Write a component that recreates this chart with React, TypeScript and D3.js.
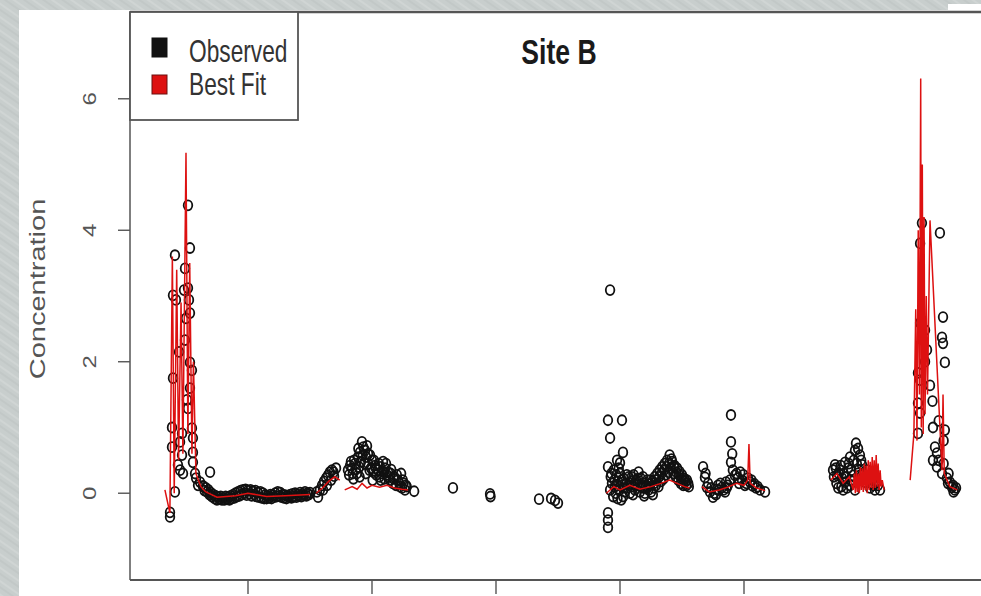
import React from "react";
import * as d3 from "d3";

// [day, concentration]
type Pt = [number, number];

const yTicks = [0, 2, 4, 6];
const xTicks = [100, 200, 300, 400, 500, 600];
const legendItems = [
  { label: "Observed", color: "#111111" },
  { label: "Best Fit", color: "#dd1111" },
];

// observed samples, grouped by sampling campaign
const obsSpike1: Pt[] = [
  [51.6, 4.38], [41.1, 3.62], [53.2, 3.73], [49.2, 3.42], [51.6, 3.12], [52.4, 2.94],
  [53.2, 2.74], [39.5, 3.01], [41.9, 2.94], [48.4, 3.09], [50, 2.66], [49.2, 2.33],
  [44.4, 2.15], [53.2, 1.99], [54.8, 1.87], [39.5, 1.75], [53.2, 1.6], [50.8, 1.42],
  [51.6, 1.29], [38.7, 1.0], [46.8, 0.91], [54.8, 0.99], [55.6, 0.84], [38.7, 0.7],
  [45.2, 0.78], [46.8, 0.58], [55.6, 0.62], [55.6, 0.47], [45.2, 0.35], [43.5, 0.43],
  [47.6, 0.3], [57.3, 0.3], [69.4, 0.32], [58.1, 0.23], [61.3, 0.17], [59.7, 0.12],
  [63.7, 0.11], [41.1, 0.02], [37.1, -0.29], [37.1, -0.36],
];

const obsFlat1: Pt[] = [
  [64, 0.1], [65, 0.04], [66, 0.08], [67, 0.02], [68, 0.05], [69, -0.02], [70, 0.01],
  [71, -0.05], [72, -0.02], [73, -0.08], [74, -0.04], [75, -0.1], [76, -0.06], [77, -0.09],
  [78, -0.05], [79, -0.1], [80, -0.07], [81, -0.1], [82, -0.05], [83, -0.09], [84, -0.06],
  [85, -0.1], [86, -0.04], [87, -0.08], [88, -0.02], [89, -0.07], [90, 0.0], [91, -0.05],
  [92, 0.02], [93, -0.04], [94, 0.04], [95, -0.02], [96, 0.05], [97, 0.0], [98, 0.06],
  [99, -0.03], [100, 0.04], [101, -0.01], [102, 0.05], [103, -0.04], [104, 0.03],
  [105, -0.02], [106, 0.04], [107, -0.05], [108, 0.01], [109, -0.06], [110, 0.02],
  [111, -0.07], [112, 0.0], [113, -0.08], [114, -0.03], [115, -0.08], [116, -0.04],
  [117, -0.07], [118, -0.02], [119, -0.08], [120, -0.03], [121, -0.06], [122, 0.0],
  [123, -0.05], [124, 0.02], [125, -0.04], [126, 0.01], [127, -0.06], [128, -0.02],
  [129, -0.07], [130, -0.03], [131, -0.08], [132, -0.04], [133, -0.06], [134, -0.02],
  [135, -0.07], [136, -0.01], [137, -0.05], [138, 0.0], [139, -0.06], [140, -0.02],
  [141, -0.04], [142, 0.01], [143, -0.05], [144, -0.01], [145, -0.03], [146, 0.02],
  [147, -0.04], [148, 0.0], [149, -0.02], [150, 0.01],
];

const obsRise: Pt[] = [
  [155.6, 0.02], [156.5, -0.06], [158, 0.05], [159.7, 0.12], [160.5, 0.05], [161.3, 0.18],
  [163, 0.23], [163.7, 0.12], [164.5, 0.27], [166, 0.32], [167, 0.2], [167.7, 0.35],
  [169, 0.32], [169.4, 0.26], [171, 0.38],
];

const obsHump: Pt[] = [
  [180.6, 0.35], [181.5, 0.28], [182.3, 0.42], [183, 0.48], [183.9, 0.38], [184.5, 0.3],
  [185, 0.22], [185.5, 0.5], [186.3, 0.45], [187, 0.36], [187.8, 0.3], [188.7, 0.55],
  [189, 0.68], [189.5, 0.4], [190, 0.25], [190.3, 0.62], [191.1, 0.48], [191.9, 0.78],
  [192.5, 0.58], [193, 0.7], [194, 0.45], [194.4, 0.65], [195, 0.3], [195.2, 0.55],
  [196, 0.72], [196.8, 0.6], [197, 0.45], [198, 0.35], [198.4, 0.58], [199.2, 0.38],
  [200, 0.5], [200.5, 0.2], [201, 0.32], [201.5, 0.5], [202.4, 0.42], [203, 0.38],
  [203.5, 0.28], [204.8, 0.35], [205.5, 0.45], [206, 0.25], [206.5, 0.4], [207, 0.2],
  [208, 0.3], [208.9, 0.48], [209.5, 0.32], [210, 0.22], [210.5, 0.38], [211.3, 0.45],
  [212, 0.28], [212.9, 0.32], [213.5, 0.25], [214.5, 0.2], [215, 0.3], [215.5, 0.36],
  [216.9, 0.15], [217.5, 0.22], [218, 0.25], [219.4, 0.12], [220, 0.28], [221, 0.2],
  [222, 0.15], [222.6, 0.1], [223.5, 0.3], [224.2, 0.08], [224.8, 0.2], [225.5, 0.15],
  [226.6, 0.05], [227.3, 0.12], [228, 0.1], [234, 0.03],
];

const obsSparse: Pt[] = [
  [265.3, 0.08], [295.2, -0.01], [295.6, -0.05], [334.7, -0.09], [344.4, -0.08],
  [347.6, -0.11], [350, -0.15],
];

const obsMid: Pt[] = [
  [392, 3.09], [390.3, 1.11], [401.6, 1.11], [392, 0.84], [402.4, 0.62], [390.3, 0.4],
  [397.6, 0.5], [400, 0.46], [390.3, -0.3], [390.3, -0.41], [390.3, -0.52],
  [392, 0.05], [392.5, 0.25], [393, 0.3], [393.5, 0.15], [394.5, -0.05], [395, 0.35],
  [395.5, 0.2], [396, 0.1], [396.5, 0.0], [397, 0.28], [397.5, 0.12], [398, -0.08],
  [398.4, 0.18], [399, 0.38], [399.5, 0.05], [400, 0.3], [401, -0.1], [401.5, 0.2],
  [402, 0.12], [402.5, -0.05], [403, 0.22], [403.5, 0.08], [404, 0.02], [405, 0.15],
  [405.5, 0.28], [406, 0.08], [407, 0.25], [407.5, 0.12], [408, 0.0], [409, 0.18],
  [409.5, 0.25], [410, 0.1], [410.5, -0.02], [411, 0.28], [412, 0.05], [412.5, 0.15],
  [413, 0.2], [414, 0.12], [414.5, 0.22], [415, 0.32], [416, 0.02], [416.5, 0.12],
  [417, 0.22], [418, 0.08], [418.5, 0.25], [419, 0.15], [419.5, -0.04], [420, 0.0],
  [420.5, 0.08], [421, 0.12], [422, 0.2], [422.5, 0.1], [423, 0.05], [424, 0.14],
  [424.5, 0.2], [425, 0.02], [426, 0.18], [426.5, -0.02], [427, 0.08], [427.5, 0.15],
  [428, 0.25], [429, 0.12], [429.5, 0.2], [430, 0.3], [431, 0.1], [431.5, 0.25],
  [432, 0.35], [433, 0.18], [433.5, 0.3], [434, 0.4], [435, 0.22], [435.5, 0.35],
  [436, 0.45], [437, 0.28], [437.5, 0.4], [438, 0.5], [439, 0.32], [439.5, 0.45],
  [440, 0.58], [441, 0.38], [441.5, 0.52], [442, 0.48], [443, 0.3], [443.5, 0.4],
  [444, 0.42], [445, 0.25], [445.5, 0.32], [446, 0.38], [447, 0.2], [447.5, 0.28],
  [448, 0.33], [449, 0.15], [449.5, 0.22], [450, 0.28], [451, 0.12], [451.5, 0.18],
  [452, 0.22], [453, 0.18], [453.5, 0.12], [454, 0.2], [455, 0.15], [455.5, 0.1],
];

const obsMid2: Pt[] = [
  [467, 0.4], [468.5, 0.24], [469, 0.3], [470, 0.09], [471, 0.15], [472.6, 0.02],
  [473.5, 0.08], [475, -0.06], [476, 0.0], [477.4, -0.02], [478, 0.06], [479, 0.12],
  [480, 0.05], [481, 0.15], [482.3, 0.09], [483.5, 0.05], [484.7, 0.02], [485.5, 0.17],
  [486, 0.08], [487, 0.12], [488.7, 0.2], [489.5, 1.19], [489.5, 0.78], [489.5, 0.47],
  [490.5, 0.6], [491, 0.35], [492.7, 0.27], [494, 0.3], [495, 0.23], [496, 0.15],
  [497, 0.32], [498.4, 0.2], [499.5, 0.28], [500.8, 0.12], [502, 0.15], [503.2, 0.23],
  [504.8, 0.17], [506, 0.2], [507, 0.11], [508.5, 0.14], [509.7, 0.08], [511, 0.1],
  [512.9, 0.05], [517, 0.02],
];

const obsLate: Pt[] = [
  [571.8, 0.35], [572.5, 0.25], [573.4, 0.43], [574, 0.38], [574.5, 0.15], [575, 0.27],
  [576, 0.08], [576.5, 0.3], [577.4, 0.35], [578, 0.42], [578.5, 0.1], [579, 0.23],
  [580, 0.05], [580.5, 0.3], [581.5, 0.47], [581.5, 0.17], [582.5, 0.25], [583, 0.08],
  [583.9, 0.38], [584.5, 0.45], [585.5, 0.55], [585.5, 0.12], [586, 0.2], [586.5, 0.35],
  [587, 0.18], [588, 0.27], [588.5, 0.5], [589.5, 0.65], [589.5, 0.05], [590.3, 0.76],
  [591, 0.45], [592, 0.68], [592.5, 0.35], [593.5, 0.58], [593.5, 0.27], [594.5, 0.5],
  [595.2, 0.43], [596, 0.3], [597.6, 0.17], [598.5, 0.25], [599.2, 0.35], [600.5, 0.2],
  [601.6, 0.08], [602.5, 0.15], [603.2, 0.23], [604.5, 0.12], [605.6, 0.05], [606.5, 0.18],
  [608, 0.12], [609.7, 0.05],
];

const obsSpike2: Pt[] = [
  [643.5, 4.11], [642, 3.8], [658, 3.96], [660.5, 2.68], [642, 2.59], [646, 2.48],
  [659.7, 2.37], [660.5, 2.28], [662, 1.99], [644.4, 2.33], [647.6, 2.18], [646, 2.0],
  [640.3, 1.83], [642, 1.72], [650, 1.64], [652, 1.4], [640.3, 1.37], [642, 1.22],
  [657, 1.1], [640.3, 0.91], [652.4, 1.0], [662, 0.96], [661, 0.8], [654, 0.7],
  [655.6, 0.61], [657, 0.5], [652.4, 0.5], [661, 0.45], [655.6, 0.4], [659.7, 0.3],
  [665, 0.3], [663.7, 0.23], [666, 0.17], [664.5, 0.15], [668.5, 0.12], [667.7, 0.09],
  [671, 0.08], [670, 0.05], [669, 0.02],
];

// model best fit, one run per campaign
const fitSpike1: Pt[] = [
  [33, 0.05], [37, -0.3], [39, 3.6], [40.5, 0.0], [42.5, 3.4], [44, 0.5], [46, 2.9],
  [47.5, 0.6], [50, 5.18], [51.5, 0.9], [53, 3.5], [54.8, 0.6], [56, 2.0], [58, 0.3],
  [62, 0.1], [66, 0.02],
];
const fitFlat1: Pt[] = [
  [66, 0.02], [75, -0.06], [90, -0.04], [100, 0.0], [115, -0.05], [130, -0.04], [150, -0.02],
];
const fitRise: Pt[] = [[155, 0.0], [160, 0.08], [165, 0.18], [170, 0.25], [174, 0.2]];
const fitHump: Pt[] = [
  [178, 0.05], [184, 0.1], [188, 0.06], [192, 0.15], [196, 0.08], [200, 0.12], [206, 0.09],
  [212, 0.12], [218, 0.08], [224, 0.06], [229, 0.05],
];
const fitMid: Pt[] = [
  [389, 0.0], [395, 0.1], [400, 0.05], [408, 0.12], [416, 0.06], [425, 0.1], [433, 0.15],
  [440, 0.2], [446, 0.15], [452, 0.1], [456, 0.08],
];
const fitMid2: Pt[] = [
  [466, 0.1], [472, 0.02], [480, 0.05], [488, 0.1], [494, 0.15], [500, 0.12], [503, 0.2],
  [504, 0.75], [505, 0.15], [510, 0.08], [517, 0.04],
];
const fitLate: Pt[] = [
  [570, 0.2], [575, 0.3], [580, 0.15], [585, 0.25], [588, 0.05], [589, 0.3], [589.8, 0.0],
  [590.6, 0.35], [591.4, 0.02], [592.2, 0.3], [593, 0.0], [593.8, 0.4], [594.6, 0.05],
  [595.4, 0.38], [596.2, 0.02], [597, 0.45], [597.8, 0.05], [598.6, 0.42], [599.4, 0.0],
  [600.2, 0.5], [601, 0.05], [601.8, 0.48], [602.6, 0.08], [603.4, 0.55], [604.2, 0.05],
  [605, 0.5], [605.8, 0.08], [606.6, 0.58], [607.4, 0.1], [608.2, 0.45], [609, 0.05],
  [609.8, 0.35], [610.6, 0.1], [611.5, 0.2], [613, 0.05],
];
const fitSpike2: Pt[] = [
  [634, 0.2], [637, 0.9], [638.5, 2.8], [639.5, 0.8], [640.5, 4.0], [641.5, 1.5],
  [642.5, 6.31], [643, 1.0], [643.8, 5.0], [644.5, 0.9], [645.2, 4.2], [646, 1.2],
  [647, 3.0], [648, 1.5], [650, 4.15], [659.7, 0.35], [660.5, 1.5], [661.5, 0.3],
  [666, 0.1], [672, 0.05],
];

const observed = [obsSpike1, obsFlat1, obsRise, obsHump, obsSparse, obsMid, obsMid2, obsLate, obsSpike2];
const fits = [fitSpike1, fitFlat1, fitRise, fitHump, fitMid, fitMid2, fitLate, fitSpike2];

const W = 981;
const H = 596;
const left = 130;
const top = 12;
const bottom = 580;

const App: React.FC = () => {
  const xScale = d3.scaleLinear().domain([0, 700]).range([124, 992]);
  const yScale = d3.scaleLinear().domain([-1.32, 7.32]).range([bottom, top]);

  const line = d3
    .line<Pt>()
    .x((d) => xScale(d[0]))
    .y((d) => yScale(d[1]));

  const font = "'Liberation Sans', Arial, Helvetica, sans-serif";

  return (
    <svg
      width={W}
      height={H}
      style={{ position: "absolute", left: 0, top: 0, display: "block" }}
    >
      <defs>
        <pattern id="tex" width="11" height="11" patternUnits="userSpaceOnUse" patternTransform="rotate(35)">
          <rect width="11" height="11" fill="#c8cecd" />
          <line x1="0" y1="3" x2="11" y2="3" stroke="#d0d5d4" strokeWidth="2" />
          <line x1="0" y1="8" x2="11" y2="8" stroke="#c1c7c6" strokeWidth="1.5" />
        </pattern>
        <clipPath id="plotClip">
          <rect x={left} y={top} width={W - left} height={bottom - top} />
        </clipPath>
      </defs>

      {/* slide background and white panel */}
      <rect x={0} y={0} width={W} height={H} fill="url(#tex)" />
      <rect x={19} y={10} width={W - 19} height={H - 10} fill="#ffffff" />
      <rect x={948} y={4} width={W - 948} height={6} fill="#ffffff" />

      {/* data */}
      <g clipPath="url(#plotClip)">
        {observed.map((grp, gi) => (
          <g key={`o${gi}`}>
            {grp.map((d, i) => (
              <ellipse
                key={i}
                cx={xScale(d[0])}
                cy={yScale(d[1])}
                rx={4.3}
                ry={5}
                fill="none"
                stroke="#111"
                strokeWidth={1.8}
              />
            ))}
          </g>
        ))}
        {fits.map((grp, gi) => (
          <path key={`f${gi}`} d={line(grp) ?? ""} fill="none" stroke="#dd1111" strokeWidth={1.5} />
        ))}
      </g>

      {/* plot box */}
      <line x1={left} x2={W} y1={top} y2={top} stroke="#555" strokeWidth={2.5} />
      <line x1={left} x2={left} y1={top} y2={bottom} stroke="#555" strokeWidth={1.5} />
      <line x1={left} x2={W} y1={bottom} y2={bottom} stroke="#555" strokeWidth={1.8} />

      {/* y axis */}
      {yTicks.map((t) => (
        <g key={t}>
          <line x1={left - 12} x2={left} y1={yScale(t)} y2={yScale(t)} stroke="#555" strokeWidth={1.4} />
          <text
            transform={`translate(96,${yScale(t)}) scale(0.8,1) rotate(-90)`}
            textAnchor="middle"
            fontFamily={font}
            fontSize={24}
            fill="#555"
          >
            {t}
          </text>
        </g>
      ))}

      {/* x axis ticks (labels fall below the visible area) */}
      {xTicks.map((t) => (
        <line key={t} x1={xScale(t)} x2={xScale(t)} y1={bottom} y2={bottom + 14} stroke="#555" strokeWidth={1.4} />
      ))}

      <text
        transform={`translate(45,289) scale(0.78,1) rotate(-90)`}
        textAnchor="middle"
        fontFamily={font}
        fontSize={29}
        fill="#555"
      >
        Concentration
      </text>

      <text
        transform={`translate(559,64) scale(0.76,1)`}
        textAnchor="middle"
        fontFamily={font}
        fontWeight="bold"
        fontSize={35}
        fill="#1a1a1a"
      >
        Site B
      </text>

      {/* legend */}
      <rect x={left} y={top} width={168} height={108} fill="#fff" stroke="#555" strokeWidth={1.8} />
      {legendItems.map((item, i) => (
        <g key={item.label}>
          <rect
            x={152}
            y={38 + i * 37}
            width={15}
            height={19}
            fill={item.color}
            stroke={i === 0 ? "#111" : "#6a1010"}
            strokeWidth={1}
          />
          <text
            transform={`translate(189,${62 + i * 33}) scale(0.71,1)`}
            fontFamily={font}
            fontSize={32}
            fill="#333"
          >
            {item.label}
          </text>
        </g>
      ))}
    </svg>
  );
};

export default App;
